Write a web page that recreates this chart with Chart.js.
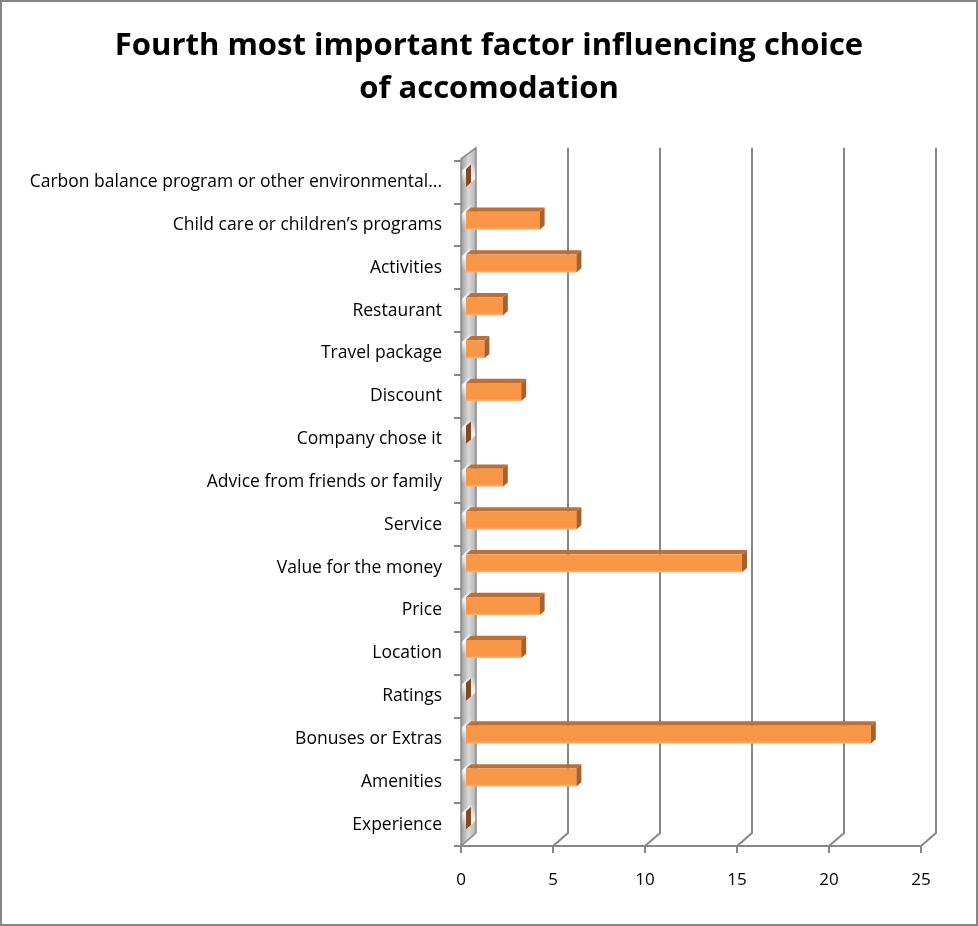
<!DOCTYPE html>
<html><head><meta charset="utf-8">
<script src="https://cdn.jsdelivr.net/npm/chart.js@4/dist/chart.umd.min.js"></script>
<style>html,body{margin:0;padding:0;background:#fff}#wrap{width:978px;height:926px}</style>
</head><body><div id="wrap"><canvas id="c" width="978" height="926"></canvas></div>
<script>
const categories = [
  "Carbon balance program or other environmental...",
  "Child care or children\u2019s programs",
  "Activities",
  "Restaurant",
  "Travel package",
  "Discount",
  "Company chose it",
  "Advice from friends or family",
  "Service",
  "Value for the money",
  "Price",
  "Location",
  "Ratings",
  "Bonuses or Extras",
  "Amenities",
  "Experience"
];
const values = [0, 4, 6, 2, 1, 3, 0, 2, 6, 15, 4, 3, 0, 22, 6, 0];
const xTicks = [0, 5, 10, 15, 20, 25];
const titleLines = ["Fourth most important factor influencing choice", "of accomodation"];

const FONT = "'Open Sans', Lato, sans-serif";
const SCENE_DX = 15, SCENE_DY = 13;
const BAR_OX = 5, BAR_OY = 4.3, BAR_DX = 5, BAR_DY = 4.3;
const GRID = '#878787';

const deco = {
  id: 'deco',
  afterLayout(chart) {
    // let the category labels use the full left margin (no clipping)
    chart.scales.y.left = 0;
  },
  beforeDraw(chart) {
    const ctx = chart.ctx;
    ctx.save();
    ctx.fillStyle = '#fff';
    ctx.fillRect(0, 0, chart.width, chart.height);
    ctx.strokeStyle = '#868686';
    ctx.lineWidth = 2;
    ctx.strokeRect(1, 1, chart.width - 2, chart.height - 2);
    ctx.restore();
  },
  beforeDatasetsDraw(chart) {
    const ctx = chart.ctx;
    const xs = chart.scales.x;
    const a = chart.chartArea;
    const top = a.top, bottom = a.bottom, left = a.left;
    ctx.save();
    ctx.strokeStyle = GRID;
    ctx.lineWidth = 2;
    xTicks.forEach(v => {
      if (v === 0) return;
      const xf = Math.round(xs.getPixelForValue(v));
      ctx.beginPath();
      ctx.moveTo(xf, bottom);
      ctx.lineTo(xf + SCENE_DX, bottom - SCENE_DY);
      ctx.lineTo(xf + SCENE_DX, top - SCENE_DY);
      ctx.stroke();
    });
    ctx.beginPath();
    ctx.moveTo(left - 7, bottom);
    ctx.lineTo(xs.getPixelForValue(xTicks[xTicks.length - 1]), bottom);
    ctx.stroke();
    xTicks.forEach(v => {
      const xf = Math.round(xs.getPixelForValue(v));
      ctx.beginPath();
      ctx.moveTo(xf, bottom);
      ctx.lineTo(xf, bottom + 7);
      ctx.stroke();
    });
    const n = categories.length;
    const step = (bottom - top) / n;
    for (let k = 0; k <= n; k++) {
      const y = Math.round(top + k * step);
      ctx.beginPath();
      ctx.moveTo(left - 7, y);
      ctx.lineTo(left, y);
      ctx.stroke();
    }
    const wallPath = () => {
      ctx.beginPath();
      ctx.moveTo(left, bottom);
      ctx.lineTo(left, top - 2);
      ctx.lineTo(left + SCENE_DX, top - SCENE_DY);
      ctx.lineTo(left + SCENE_DX, bottom - SCENE_DY);
      ctx.closePath();
    };
    wallPath();
    const wg = ctx.createLinearGradient(left, 0, left + SCENE_DX, 0);
    wg.addColorStop(0, '#9c9c9c');
    wg.addColorStop(0.5, '#d8d8d8');
    wg.addColorStop(1, '#b4b4b4');
    ctx.fillStyle = wg;
    ctx.fill();
    ctx.save();
    ctx.clip();
    const stripeH = (bottom - top) / n;
    for (let y = top - 40; y < bottom + 40; y += stripeH) {
      const sg = ctx.createLinearGradient(left, y + 18, left + SCENE_DX, y + 2);
      sg.addColorStop(0, 'rgba(255,255,255,0)');
      sg.addColorStop(0.5, 'rgba(255,255,255,0.95)');
      sg.addColorStop(1, 'rgba(255,255,255,0)');
      ctx.fillStyle = sg;
      ctx.beginPath();
      ctx.moveTo(left, y + 8);
      ctx.lineTo(left + SCENE_DX, y - 8);
      ctx.lineTo(left + SCENE_DX, y + 14);
      ctx.lineTo(left, y + 30);
      ctx.closePath();
      ctx.fill();
    }
    ctx.restore();
    ctx.strokeStyle = '#8a8a8a';
    ctx.lineWidth = 1.5;
    wallPath();
    ctx.stroke();
    ctx.restore();
  },
  afterDatasetsDraw(chart) {
    const ctx = chart.ctx;
    const meta = chart.getDatasetMeta(0);
    ctx.save();
    meta.data.forEach((el, i) => {
      const x0 = el.base + BAR_OX;
      const x1 = el.x + BAR_OX;
      const yT = el.y - el.height / 2 - BAR_OY;
      const yB = yT + el.height;
      const zero = values[i] === 0;
      if (!zero) {
        ctx.fillStyle = '#bd6f35';
        ctx.beginPath();
        ctx.moveTo(x0, yT);
        ctx.lineTo(x0 + BAR_DX, yT - BAR_DY);
        ctx.lineTo(x1 + BAR_DX, yT - BAR_DY);
        ctx.lineTo(x1, yT);
        ctx.closePath();
        ctx.fill();
        const fg = ctx.createLinearGradient(0, yT, 0, yB);
        fg.addColorStop(0, '#f89848');
        fg.addColorStop(0.85, '#f79646');
        fg.addColorStop(1, '#fbb27a');
        ctx.fillStyle = fg;
        ctx.fillRect(x0, yT, x1 - x0, yB - yT);
      }
      ctx.fillStyle = zero ? '#86491f' : '#a8612c';
      ctx.beginPath();
      ctx.moveTo(x1, yT);
      ctx.lineTo(x1 + BAR_DX, yT - BAR_DY);
      ctx.lineTo(x1 + BAR_DX, yB - BAR_DY);
      ctx.lineTo(x1, yB);
      ctx.closePath();
      ctx.fill();
    });
    ctx.restore();
  }
};

new Chart(document.getElementById('c'), {
  type: 'bar',
  data: {
    labels: categories,
    datasets: [{
      data: values,
      backgroundColor: 'rgba(0,0,0,0)',
      borderWidth: 0,
      barPercentage: 0.42,
      categoryPercentage: 1
    }]
  },
  options: {
    indexAxis: 'y',
    responsive: false,
    animation: false,
    devicePixelRatio: 1,
    layout: { padding: { left: 57, right: 57, top: 0, bottom: 0 } },
    plugins: {
      legend: { display: false },
      tooltip: { enabled: false },
      title: {
        display: true,
        text: titleLines,
        color: '#000',
        font: { family: FONT, size: 31, weight: 'bold', lineHeight: 1.4 },
        padding: { top: 24, bottom: 50 }
      }
    },
    scales: {
      x: {
        type: 'linear',
        min: 0, max: 25,
        afterBuildTicks(scale) { scale.ticks = xTicks.map(v => ({ value: v })); },
        ticks: { color: '#000', font: { family: FONT, size: 17 }, padding: 16, maxRotation: 0 },
        grid: { display: false },
        border: { display: false },
        afterFit(scale) { scale.height = 80; }
      },
      y: {
        type: 'category',
        ticks: { color: '#000', font: { family: FONT, size: 17.5 }, padding: 11, autoSkip: false },
        grid: { display: false },
        border: { display: false },
        afterFit(scale) { scale.width = 404; }
      }
    }
  },
  plugins: [deco]
});
</script>
</body></html>
